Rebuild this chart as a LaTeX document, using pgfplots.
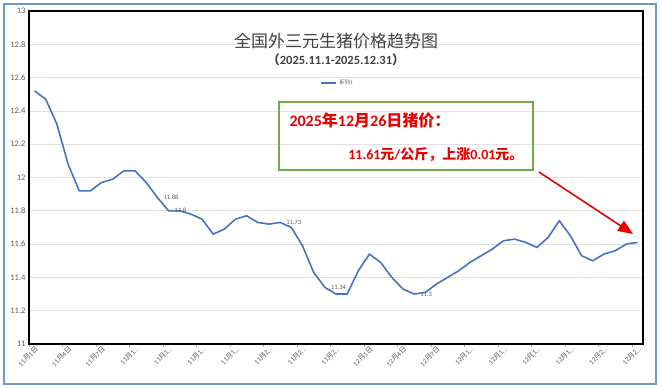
\documentclass[border=0pt]{standalone}
\usepackage{pgfplots}
\pgfplotsset{compat=1.18}
\usepackage{fontspec}
\setmainfont{Carlito}
\newfontfamily\cjk{Noto Sans CJK SC}
\usetikzlibrary{arrows.meta}
\definecolor{lineblue}{RGB}{68,114,196}
\definecolor{borderblue}{RGB}{110,150,205}
\definecolor{boxgreen}{RGB}{112,173,71}
\definecolor{txtgray}{RGB}{89,89,89}
\definecolor{titlegray}{RGB}{64,64,64}
\definecolor{gridgray}{RGB}{225,225,225}
\definecolor{annred}{RGB}{235,0,0}
\newcommand{\fs}[1]{\fontsize{#1bp}{#1bp}\selectfont}
\newcommand{\yue}{{\cjk 月}}
\newcommand{\ri}{{\cjk 日}}
\begin{document}
\begin{tikzpicture}
\path (0,0) rectangle (660bp,388bp);
\begin{axis}[
  at={(29bp,44bp)}, anchor=south west, scale only axis,
  width=614bp, height=333bp,
  xmin=-0.5, xmax=54.5, ymin=11, ymax=13,
  ytick={11,11.2,11.4,11.6,11.8,12,12.2,12.4,12.6,12.8,13},
  yticklabels={11,11.2,11.4,11.6,11.8,12,12.2,12.4,12.6,12.8,13},
  xtick={0,3,...,54},
  xticklabels={11\yue1\ri,11\yue4\ri,11\yue7\ri,11\yue1…,11\yue1…,11\yue1…,11\yue1…,11\yue2…,11\yue2…,11\yue2…,12\yue1\ri,12\yue4\ri,12\yue7\ri,12\yue1…,12\yue1…,12\yue1…,12\yue1…,12\yue2…,12\yue2…},
  x tick label style={rotate=45, anchor=north east, font=\fs{7}, text=txtgray, inner sep=1bp},
  y tick label style={font=\fs{8.5}, text=txtgray},
  major tick length=0pt,
  tick pos=left,
  minor xtick={-0.5,2.5,...,53.5},
  minor tick length=3bp,
  tick align=outside,
  minor tick style={gray!70, line width=0.6bp},
  ymajorgrids, grid style={gridgray, line width=0.6bp},
  axis line style={black, line width=1.8bp},
  legend style={at={(0.503,0.784)}, anchor=center, draw=none, fill=none, font=\fs{5.5}, text=txtgray, inner sep=0pt},
  legend image code/.code={\draw[#1, line width=1.2bp] (0bp,0bp) -- (15bp,0bp);},
]
\addplot[lineblue, line width=1.6bp, mark=none] coordinates {
(0,12.52) (1,12.47) (2,12.32) (3,12.08) (4,11.92) (5,11.92) (6,11.97) (7,11.99)
(8,12.04) (9,12.04) (10,11.97) (11,11.88) (12,11.80) (13,11.80) (14,11.78) (15,11.75)
(16,11.66) (17,11.69) (18,11.75) (19,11.77) (20,11.73) (21,11.72) (22,11.73) (23,11.70)
(24,11.59) (25,11.43) (26,11.34) (27,11.30) (28,11.30) (29,11.44) (30,11.54) (31,11.49)
(32,11.40) (33,11.33) (34,11.30) (35,11.31) (36,11.36) (37,11.40) (38,11.44) (39,11.49)
(40,11.53) (41,11.57) (42,11.62) (43,11.63) (44,11.61) (45,11.58) (46,11.64) (47,11.74)
(48,11.65) (49,11.53) (50,11.50) (51,11.54) (52,11.56) (53,11.60) (54,11.61)
};
\addlegendentry{{\cjk 系列}1}
\addplot[draw=none, mark=none, forget plot, nodes near coords, point meta=explicit symbolic,
  nodes near coords style={anchor=west, xshift=5bp, font=\fs{6.5}, text=txtgray, inner sep=1bp}]
  coordinates {(11,11.88) [11.88] (12,11.80) [11.8] (22,11.73) [11.73] (26,11.34) [11.34] (34,11.30) [11.3]};
\node[font=\cjk\fs{17}, text=titlegray] at (rel axis cs:0.5,0.911) {全国外三元生猪价格趋势图};
\node[font=\bfseries\fs{12.5}, text=titlegray] at (rel axis cs:0.5,0.853) {{\cjk （}2025.11.1-2025.12.31{\cjk ）}};
\end{axis}
\draw[borderblue, line width=2bp] (4bp,4bp) rectangle (655.5bp,384bp);
\draw[boxgreen, line width=1.2bp] (279bp,218bp) rectangle (533bp,286bp);
\node[anchor=west, text=annred, font=\bfseries\fs{16}] at (286bp,268bp) {2025{\cjk 年}12{\cjk 月}26{\cjk 日猪价：}};
\node[anchor=east, text=annred, font=\bfseries\fs{14}] at (527bp,233bp) {11.61{\cjk 元}/{\cjk 公斤，上涨}0.01{\cjk 元。}};
\draw[annred, line width=1.6bp, -{Triangle[length=15bp,width=12bp]}] (539bp,216bp) -- (633bp,154bp);
\end{tikzpicture}
\end{document}
